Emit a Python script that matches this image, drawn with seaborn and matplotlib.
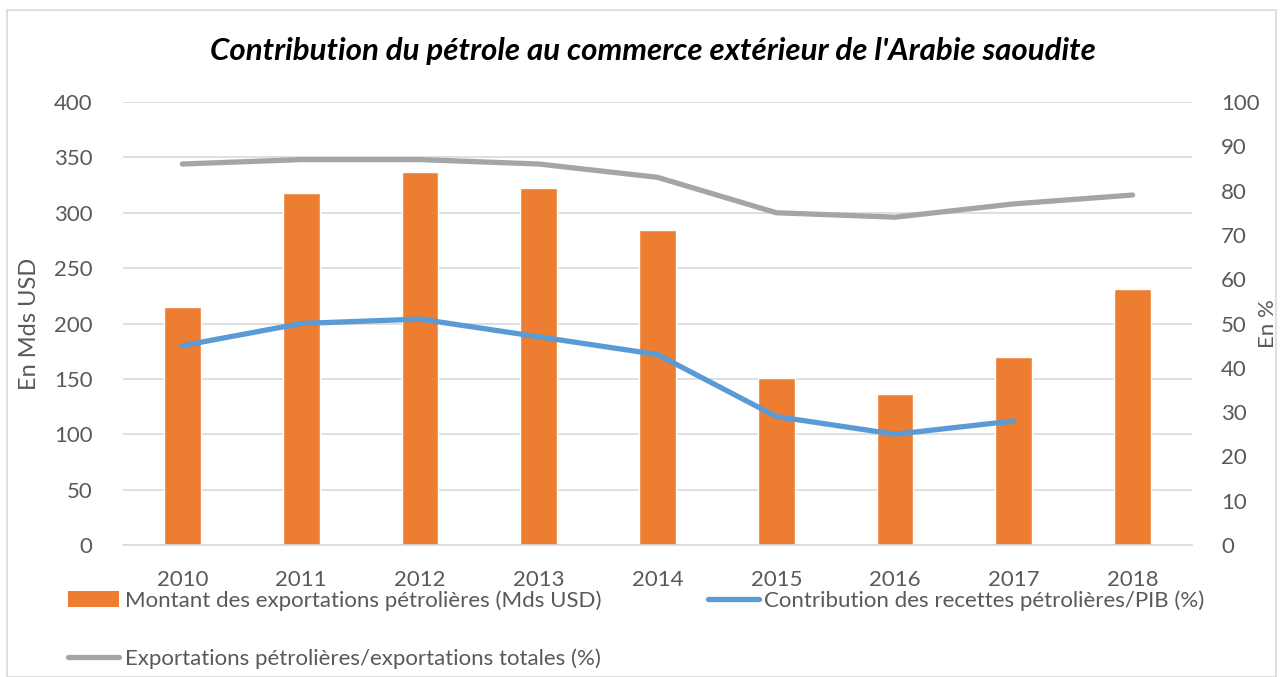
import numpy as np
import pandas as pd
import seaborn as sns
import matplotlib.pyplot as plt
from matplotlib.patches import Patch, Rectangle
from matplotlib.lines import Line2D

years = [2010, 2011, 2012, 2013, 2014, 2015, 2016, 2017, 2018]
exports_bn = [215, 318, 337, 322, 284, 151, 136, 170, 231]
oil_gdp_pct = [45, 50, 51, 47, 43, 29, 25, 28, np.nan]
oil_share_pct = [86, 87, 87, 86, 83, 75, 74, 77, 79]

lab_bar = "Montant des exportations pétrolières (Mds USD)"
lab_gdp = "Contribution des recettes pétrolières/PIB (%)"
lab_share = "Exportations pétrolières/exportations totales (%)"

ORANGE = "#ED7D31"
BLUE = "#5B9BD5"
GREY = "#A5A5A5"
TXT = "#595959"

sns.set_style("white")
plt.rcParams['font.family'] = ['Lato', 'DejaVu Sans']

df = pd.DataFrame({'year': years, 'exports': exports_bn,
                   'gdp': oil_gdp_pct, 'share': oil_share_pct})

fig = plt.figure(figsize=(12.83, 6.77), dpi=100)
ax = fig.add_axes([123 / 1283, 1 - 545 / 677, (1192 - 123) / 1283, (545 - 102) / 677])

# light chart border
fig.patches.append(Rectangle((7 / 1283, 0), 1 - 14 / 1283, 1 - 10 / 677,
                             transform=fig.transFigure, fill=False,
                             edgecolor="#D9D9D9", linewidth=1.2))

sns.barplot(data=df, x='year', y='exports', native_scale=True, width=0.31,
            color=ORANGE, saturation=1, ax=ax, zorder=2)
ax.set_ylim(0, 400)
ax.set_yticks(range(0, 401, 50))
ax.set_xlim(2009.5, 2018.5)
ax.set_xticks(years)
ax.grid(axis='y', color="#D9D9D9", linewidth=1.2, zorder=0)
ax.set_axisbelow(True)
for s in ['top', 'right', 'left']:
    ax.spines[s].set_visible(False)
ax.spines['bottom'].set_color("#D9D9D9")
ax.spines['bottom'].set_linewidth(1.2)
ax.tick_params(axis='both', length=0, labelsize=16, labelcolor=TXT)
ax.tick_params(axis='x', pad=18)
ax.tick_params(axis='y', pad=22)
ax.set_xlabel("")
ax.set_ylabel("En Mds USD", fontsize=17, color=TXT)
ax.yaxis.set_label_coords(-0.078, 0.5)

ax2 = ax.twinx()
sns.lineplot(data=df, x='year', y='share', color=GREY, linewidth=3.8,
             solid_capstyle='round', ax=ax2)
sns.lineplot(data=df.dropna(), x='year', y='gdp', color=BLUE, linewidth=3.8,
             solid_capstyle='round', ax=ax2)
ax2.set_ylim(0, 100)
ax2.set_yticks(range(0, 101, 10))
ax2.set_xlim(2009.5, 2018.5)
for s in ax2.spines.values():
    s.set_visible(False)
ax2.tick_params(axis='y', length=0, labelsize=16, labelcolor=TXT, pad=21)
ax2.set_ylabel("En %", fontsize=16, color=TXT, va='center')
ax2.yaxis.set_label_coords(1.071, 0.5)
ax2.set_xlabel("")

fig.text(0.509, 1 - 51 / 677,
         "Contribution du pétrole au commerce extérieur de l'Arabie saoudite",
         ha='center', va='center', fontsize=22.5, fontweight='bold',
         fontstyle='italic', color='black')

handles = [Patch(facecolor=ORANGE, edgecolor='none'),
           Line2D([], [], color=GREY, linewidth=3.8, solid_capstyle='round'),
           Line2D([], [], color=BLUE, linewidth=3.8, solid_capstyle='round')]
fig.legend(handles, [lab_bar, lab_share, lab_gdp], ncol=2,
           loc='upper left', bbox_to_anchor=(48 / 1283, 1 - 570 / 677),
           frameon=False, fontsize=16, labelcolor=TXT,
           handlelength=2.3, handleheight=0.7, handletextpad=0.25,
           columnspacing=4.8, labelspacing=1.7)

fig.savefig("out.png", dpi=100)
